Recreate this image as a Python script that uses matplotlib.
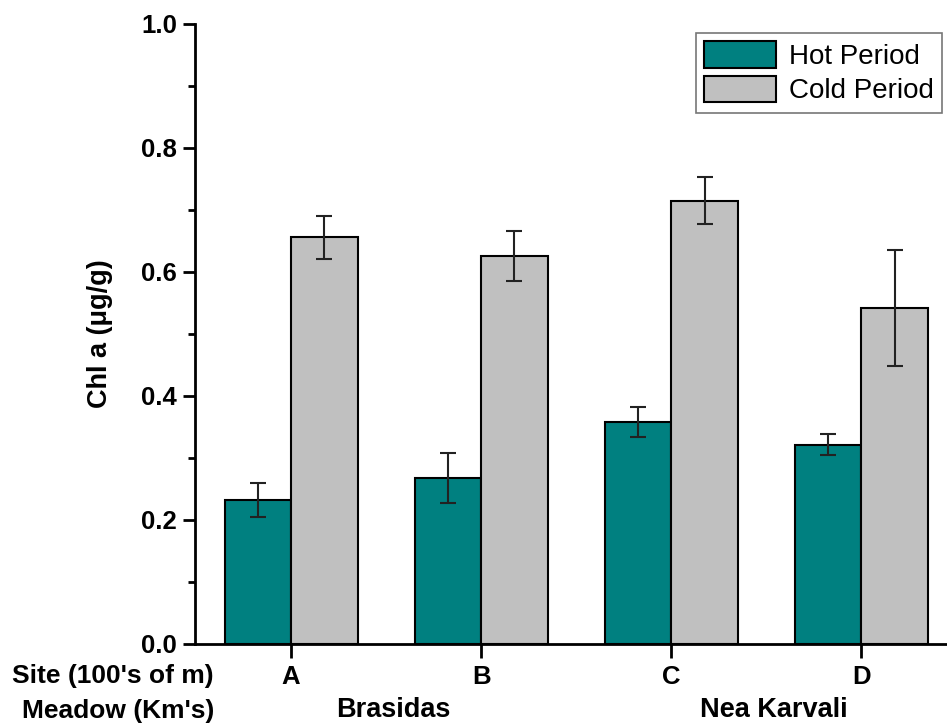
import matplotlib
matplotlib.use("Agg")
import matplotlib.pyplot as plt
import numpy as np
from matplotlib.ticker import MultipleLocator

plt.rcParams['font.family'] = ['Liberation Sans', 'DejaVu Sans']

sites = ['A', 'B', 'C', 'D']
meadows = ['Brasidas', 'Nea Karvali']
hot = [0.232, 0.268, 0.358, 0.321]
hot_err = [0.027, 0.040, 0.024, 0.017]
cold = [0.656, 0.626, 0.715, 0.542]
cold_err = [0.035, 0.040, 0.038, 0.093]
yticks = [0.0, 0.2, 0.4, 0.6, 0.8, 1.0]

fig = plt.figure(figsize=(9.47, 7.26), dpi=100)
ax = fig.add_axes([0.206, 0.113, 0.794, 0.854])

x = np.arange(len(sites))
w = 0.35
ekw = dict(elinewidth=1.5, capthick=1.5, ecolor='#222222')
ax.bar(x - w / 2, hot, w, color='#008080', edgecolor='black', linewidth=1.5,
       yerr=hot_err, capsize=6, error_kw=ekw, label='Hot Period')
ax.bar(x + w / 2, cold, w, color='#c0c0c0', edgecolor='black', linewidth=1.5,
       yerr=cold_err, capsize=6, error_kw=ekw, label='Cold Period')

ax.set_xlim(-0.505, 3.45)
ax.set_ylim(0, 1.0)
ax.spines['top'].set_visible(False)
ax.spines['right'].set_visible(False)
ax.spines['left'].set_linewidth(2)
ax.spines['bottom'].set_linewidth(2)

ax.set_yticks(yticks)
ax.set_yticklabels(['%.1f' % v for v in yticks], fontsize=18.5, fontweight='bold')
ax.yaxis.set_minor_locator(MultipleLocator(0.1))
ax.tick_params(axis='y', which='major', length=9, width=2, pad=4)
ax.tick_params(axis='y', which='minor', length=5, width=2)
ax.set_xticks(x)
ax.set_xticklabels(sites, fontsize=18.5, fontweight='bold')
ax.tick_params(axis='x', length=10, width=2, pad=5)

ax.set_ylabel('Chl a (μg/g)', fontsize=19.5, fontweight='bold')
ax.yaxis.set_label_coords(-0.109, 0.5)

fig.text(0.226, 1 - 676 / 726, "Site (100's of m)", ha='right', va='center',
         fontsize=19, fontweight='bold')
fig.text(0.226, 1 - 711 / 726, "Meadow (Km's)", ha='right', va='center',
         fontsize=19, fontweight='bold')
for i, m in enumerate(meadows):
    xc = (x[2 * i] + x[2 * i + 1]) / 2 + 0.04
    ax.text(xc, -0.107, m, ha='center', va='center', fontsize=19.5,
            fontweight='bold', transform=ax.get_xaxis_transform())

leg = ax.legend(loc='upper right', bbox_to_anchor=(0.997, 0.99), fontsize=20,
                frameon=True, fancybox=False, edgecolor='#555555',
                handlelength=2.6, handleheight=1.1, borderpad=0.3,
                labelspacing=0.2, handletextpad=0.45, borderaxespad=0.1)
leg.get_frame().set_linewidth(1.2)

fig.savefig('out.png', dpi=100)
